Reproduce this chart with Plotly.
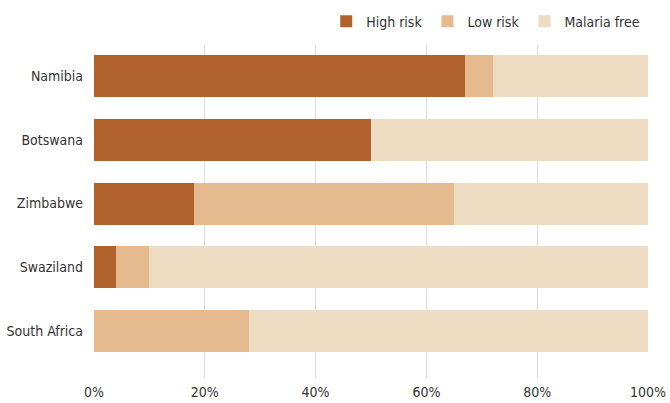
import plotly.graph_objects as go

countries = ["Namibia", "Botswana", "Zimbabwe", "Swaziland", "South Africa"]
high_risk = [67, 50, 18, 4, 0]
low_risk = [5, 0, 47, 6, 28]
malaria_free = [28, 50, 35, 90, 72]
tick_vals = [0, 20, 40, 60, 80, 100]
tick_text = ["0%", "20%", "40%", "60%", "80%", "100%"]

font_family = "DejaVu Sans Condensed, Liberation Sans Narrow, sans-serif"

fig = go.Figure()
for name, vals, color in [
    ("High risk", high_risk, "#B0622A"),
    ("Low risk", low_risk, "#E6BA8F"),
    ("Malaria free", malaria_free, "#EDDBC2"),
]:
    fig.add_trace(go.Bar(
        y=countries, x=vals, name=name, orientation="h",
        marker=dict(color=color, line=dict(width=0)),
    ))

fig.update_layout(
    barmode="stack",
    bargap=0.34,
    width=670, height=403,
    margin=dict(l=94, r=22, t=45, b=25, autoexpand=False),
    plot_bgcolor="white", paper_bgcolor="white",
    font=dict(family=font_family, size=14, color="#333333"),
    legend=dict(orientation="h", x=0.995, xanchor="right", y=1.07, yanchor="middle",
                font=dict(size=14), traceorder="normal",
                bgcolor="rgba(0,0,0,0)"),
    xaxis=dict(range=[0, 100], tickvals=tick_vals, ticktext=tick_text,
               showgrid=True, gridcolor="#DDDDDD", gridwidth=1,
               zeroline=False, showline=False, ticks="", fixedrange=True,
               ticklabelstandoff=4, automargin=False),
    yaxis=dict(categoryorder="array", categoryarray=countries,
               range=[4.74, -0.49], showgrid=False, zeroline=False,
               ticks="", ticklabelstandoff=10, showline=False, automargin=False),
)
fig.write_html("out.html", config={"displayModeBar": False},
               post_script="document.body.style.margin='0';")
